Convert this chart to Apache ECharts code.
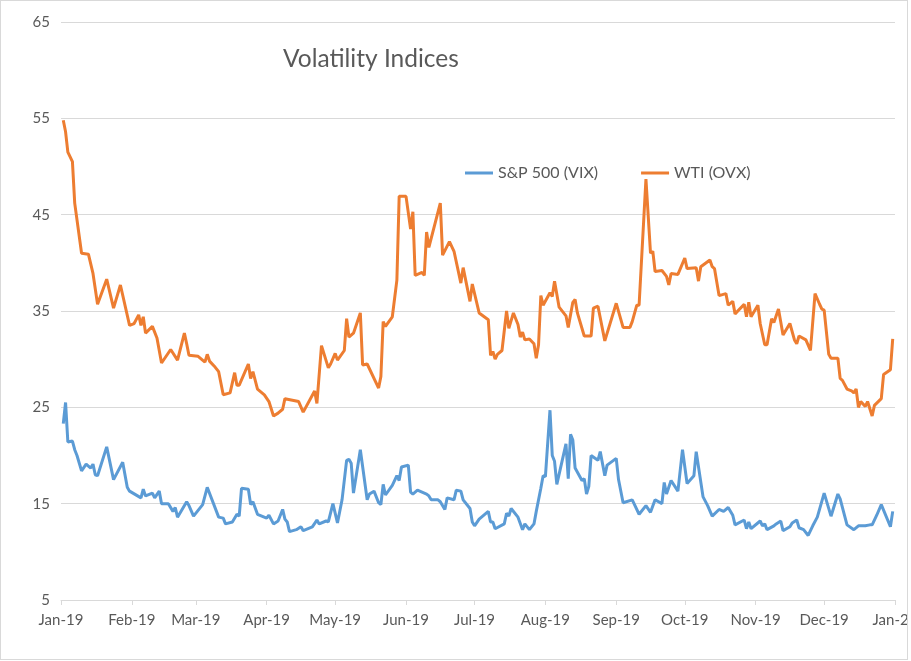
<!DOCTYPE html>
<html>
<head>
<meta charset="utf-8">
<script src="https://cdn.jsdelivr.net/npm/echarts@6/dist/echarts.min.js"></script>
<style>
html,body{margin:0;padding:0;background:#fff;}
#wrap{position:absolute;left:0;top:0;width:906px;height:658px;border:1px solid #d9d9d9;background:#fff;overflow:hidden;}
#chart{width:906px;height:658px;}
</style>
</head>
<body>
<div id="wrap"><div id="chart"></div></div>
<script>
const titleText = 'Volatility Indices';
const seriesNames = ['S&P 500 (VIX)', 'WTI (OVX)'];
const monthLabels = ['Jan','Feb','Mar','Apr','May','Jun','Jul','Aug','Sep','Oct','Nov','Dec'];
const yTicks = [5, 15, 25, 35, 45, 55, 65];
const year = '2019';

const vixDates = ['01-02','01-03','01-04','01-06','01-07','01-08','01-10','01-12','01-14','01-15','01-16','01-17','01-21','01-24','01-28','01-30','01-31',
'02-05','02-06','02-07','02-10','02-11','02-13','02-14','02-17','02-19','02-20','02-21','02-25','02-26','02-28',
'03-04','03-06','03-11','03-13','03-14','03-17','03-19','03-20','03-21','03-24','03-25','03-26','03-28',
'04-01','04-02','04-04','04-06','04-08','04-09','04-10','04-11','04-14','04-16','04-17','04-21','04-23','04-24','04-27','04-28','04-30',
'05-02','05-04','05-06','05-07','05-08','05-09','05-12','05-15','05-16','05-18','05-20','05-21','05-22','05-23','05-26','05-28','05-29','05-30',
'06-02','06-03','06-04','06-06','06-08','06-10','06-11','06-12','06-15','06-16','06-18','06-19','06-22','06-23','06-25','06-26','06-29','06-30',
'07-01','07-03','07-07','07-08','07-09','07-10','07-14','07-15','07-16','07-17','07-20','07-22','07-23','07-25','07-27','07-28','07-30','07-31',
'08-01','08-03','08-04','08-05','08-06','08-10','08-11','08-12','08-13','08-14','08-17','08-18','08-19','08-20','08-21','08-24','08-25','08-27','08-28',
'09-01','09-02','09-04','09-08','09-09','09-11','09-14','09-16','09-18','09-21','09-22','09-23','09-25','09-28','09-30',
'10-02','10-05','10-06','10-09','10-11','10-13','10-16','10-18','10-20','10-22','10-23','10-27','10-28','10-29','10-30',
'11-03','11-04','11-05','11-06','11-09','11-10','11-12','11-13','11-16','11-17','11-19','11-20','11-22','11-24','11-26','11-28',
'12-01','12-04','12-07','12-08','12-11','12-14','12-16','12-19','12-21','12-22','12-24','12-26','12-30','12-31'];
const vixValues = [23.3,25.5,21.4,21.5,20.6,20.0,18.4,19.1,18.7,19.1,18.0,17.9,20.9,17.5,19.3,16.7,16.3,
15.6,16.5,15.8,16.1,15.6,16.3,15.0,15.0,14.2,14.6,13.6,15.2,14.8,13.7,
14.9,16.7,13.6,13.5,12.9,13.1,13.9,13.7,16.6,16.5,14.9,15.2,13.9,
13.5,13.8,12.9,13.2,14.4,13.4,13.1,12.1,12.3,12.6,12.2,12.6,13.3,12.9,13.2,13.1,15.0,
13.0,15.4,19.5,19.6,19.2,16.1,20.6,15.4,16.0,16.3,15.1,14.9,17.0,15.9,16.9,17.9,17.4,18.8,
19.0,16.2,16.0,16.4,16.2,16.0,15.8,15.4,15.4,15.2,14.4,15.6,15.4,16.4,16.3,15.4,14.5,13.1,
12.7,13.4,14.2,13.1,13.1,12.4,12.9,14.0,13.7,14.5,13.6,12.3,12.9,12.3,12.9,14.2,16.6,17.9,
17.8,24.7,20.0,19.4,17.0,21.2,17.6,22.2,21.6,18.7,17.4,17.6,16.0,16.8,20.0,19.5,20.4,17.9,19.0,
19.7,17.5,15.1,15.4,14.9,13.9,14.8,14.1,15.4,15.0,17.2,16.0,17.4,16.3,20.6,
17.1,17.9,20.4,15.7,14.8,13.7,14.4,14.2,14.6,13.8,12.8,13.3,12.4,13.1,12.4,
13.2,12.7,12.9,12.3,12.7,12.9,13.2,12.2,12.6,13.0,13.3,12.5,12.3,11.7,12.7,13.6,
16.1,13.7,16.0,15.5,12.8,12.3,12.7,12.7,12.8,12.8,13.8,14.9,12.6,14.2];

const ovxDates = ['01-02','01-03','01-04','01-06','01-07','01-10','01-13','01-15','01-17','01-21','01-24','01-27','01-31',
'02-02','02-04','02-05','02-06','02-07','02-10','02-12','02-14','02-18','02-21','02-24','02-25','02-26',
'03-02','03-05','03-06','03-07','03-09','03-11','03-13','03-16','03-18','03-19','03-20','03-24','03-25','03-26','03-28','03-31',
'04-02','04-04','04-06','04-08','04-09','04-15','04-17','04-22','04-23','04-25','04-28','04-29',
'05-01','05-02','05-05','05-06','05-07','05-09','05-12','05-13','05-15','05-20','05-21','05-22','05-23','05-26','05-28','05-29',
'06-01','06-03','06-04','06-05','06-08','06-09','06-10','06-11','06-16','06-17','06-20','06-22','06-25','06-26','06-29','06-30',
'07-03','07-07','07-08','07-09','07-10','07-11','07-13','07-15','07-16','07-18','07-20','07-21','07-22','07-23','07-25','07-27','07-28','07-29','07-30','07-31',
'08-03','08-04','08-05','08-07','08-10','08-11','08-13','08-14','08-15','08-18','08-21','08-22','08-24','08-27',
'09-01','09-04','09-07','09-08','09-10','09-11','09-14','09-16','09-17','09-18','09-21','09-23','09-24','09-25','09-28',
'10-01','10-02','10-06','10-07','10-08','10-12','10-13','10-14','10-16','10-19','10-20','10-22','10-23','10-27','10-28','10-29','10-30',
'11-02','11-03','11-05','11-06','11-08','11-09','11-11','11-13','11-16','11-18','11-19','11-20','11-23','11-25','11-27','11-29','11-30',
'12-01','12-03','12-04','12-07','12-08','12-09','12-11','12-13','12-14','12-15','12-16','12-17','12-19','12-20','12-22','12-23','12-26','12-27','12-30','12-31'];
const ovxValues = [54.8,53.6,51.5,50.5,46.2,41.0,40.9,38.9,35.7,38.3,35.3,37.7,33.5,
33.7,34.6,33.5,34.4,32.7,33.4,32.2,29.6,31.0,29.9,32.7,31.6,30.4,
30.3,29.7,30.5,29.8,29.3,28.7,26.3,26.5,28.6,27.3,27.3,29.5,28.0,28.7,26.9,26.3,
25.6,24.1,24.4,24.8,25.9,25.6,24.5,26.7,25.4,31.4,29.1,29.5,
30.6,29.9,30.9,34.2,32.3,32.7,34.8,29.4,29.5,27.0,28.2,33.9,33.4,34.4,38.2,46.9,
46.9,43.5,45.3,38.7,39.0,38.7,43.2,41.6,46.2,40.8,42.2,41.2,37.9,39.5,36.0,37.8,
34.8,34.1,30.4,30.8,30.0,30.5,30.9,35.0,33.2,34.8,33.6,32.3,32.8,32.0,32.1,31.6,30.1,31.5,36.6,35.6,
36.9,36.5,38.1,35.4,34.5,33.3,35.9,36.2,34.8,32.4,32.4,35.3,35.5,31.9,
35.8,33.3,33.3,33.9,35.6,35.6,48.7,41.0,41.2,39.1,39.2,38.6,37.7,38.9,38.8,
40.5,39.4,39.5,38.1,39.6,40.3,39.6,39.4,36.6,36.8,35.6,36.0,34.7,35.7,34.4,35.9,34.4,
35.6,33.7,31.5,31.5,34.2,33.8,35.2,32.5,33.7,32.0,31.6,32.4,32.0,30.9,36.8,35.7,35.2,
35.1,30.5,30.1,30.1,28.0,27.8,26.9,26.7,26.5,26.9,25.0,25.6,25.1,25.6,24.1,25.2,25.9,28.4,28.9,32.1];

const vixData = vixDates.map((d, i) => [year + '-' + d, vixValues[i]]);
const ovxData = ovxDates.map((d, i) => [year + '-' + d, ovxValues[i]]);

const FONT = 'Lato, "Open Sans", sans-serif';
const chart = echarts.init(document.getElementById('chart'), null, {renderer: 'canvas'});
chart.setOption({
  backgroundColor: '#ffffff',
  animation: false,
  title: {
    text: titleText,
    left: 277, top: 41,
    textStyle: {color: '#595959', fontSize: 24.5, fontWeight: 'normal', fontFamily: FONT}
  },
  legend: {
    data: seriesNames,
    left: 459, top: 159,
    icon: 'rect',
    itemWidth: 28, itemHeight: 3, itemGap: 43,
    textStyle: {color: '#595959', fontSize: 16, fontFamily: FONT}
  },
  grid: {left: 60, right: 12, top: 21, bottom: 59, containLabel: false, outerBoundsMode: 'none'},
  xAxis: {
    type: 'time',
    min: year + '-01-01',
    max: '2020-01-01',
    splitNumber: 12,
    axisLine: {show: true, lineStyle: {color: '#d9d9d9', width: 1}},
    axisTick: {show: true, length: 5, lineStyle: {color: '#d9d9d9'}},
    splitLine: {show: false},
    axisLabel: {
      color: '#595959', fontSize: 15, fontFamily: FONT, margin: 13,
      showMinLabel: true, showMaxLabel: true, hideOverlap: false,
      formatter: function (v) {
        const d = new Date(v);
        return monthLabels[d.getMonth()] + '-' + String(d.getFullYear()).slice(2);
      }
    }
  },
  yAxis: {
    type: 'value',
    min: yTicks[0], max: yTicks[yTicks.length - 1], interval: 10,
    axisLine: {show: false},
    axisTick: {show: false},
    splitLine: {show: true, lineStyle: {color: '#d9d9d9', width: 1}},
    axisLabel: {color: '#595959', fontSize: 15, fontFamily: FONT, margin: 11}
  },
  series: [
    {name: seriesNames[0], type: 'line', data: vixData, symbol: 'none',
     lineStyle: {color: '#5b9bd5', width: 3}, itemStyle: {color: '#5b9bd5'}},
    {name: seriesNames[1], type: 'line', data: ovxData, symbol: 'none',
     lineStyle: {color: '#ed7d31', width: 3}, itemStyle: {color: '#ed7d31'}}
  ]
});
</script>
</body>
</html>
